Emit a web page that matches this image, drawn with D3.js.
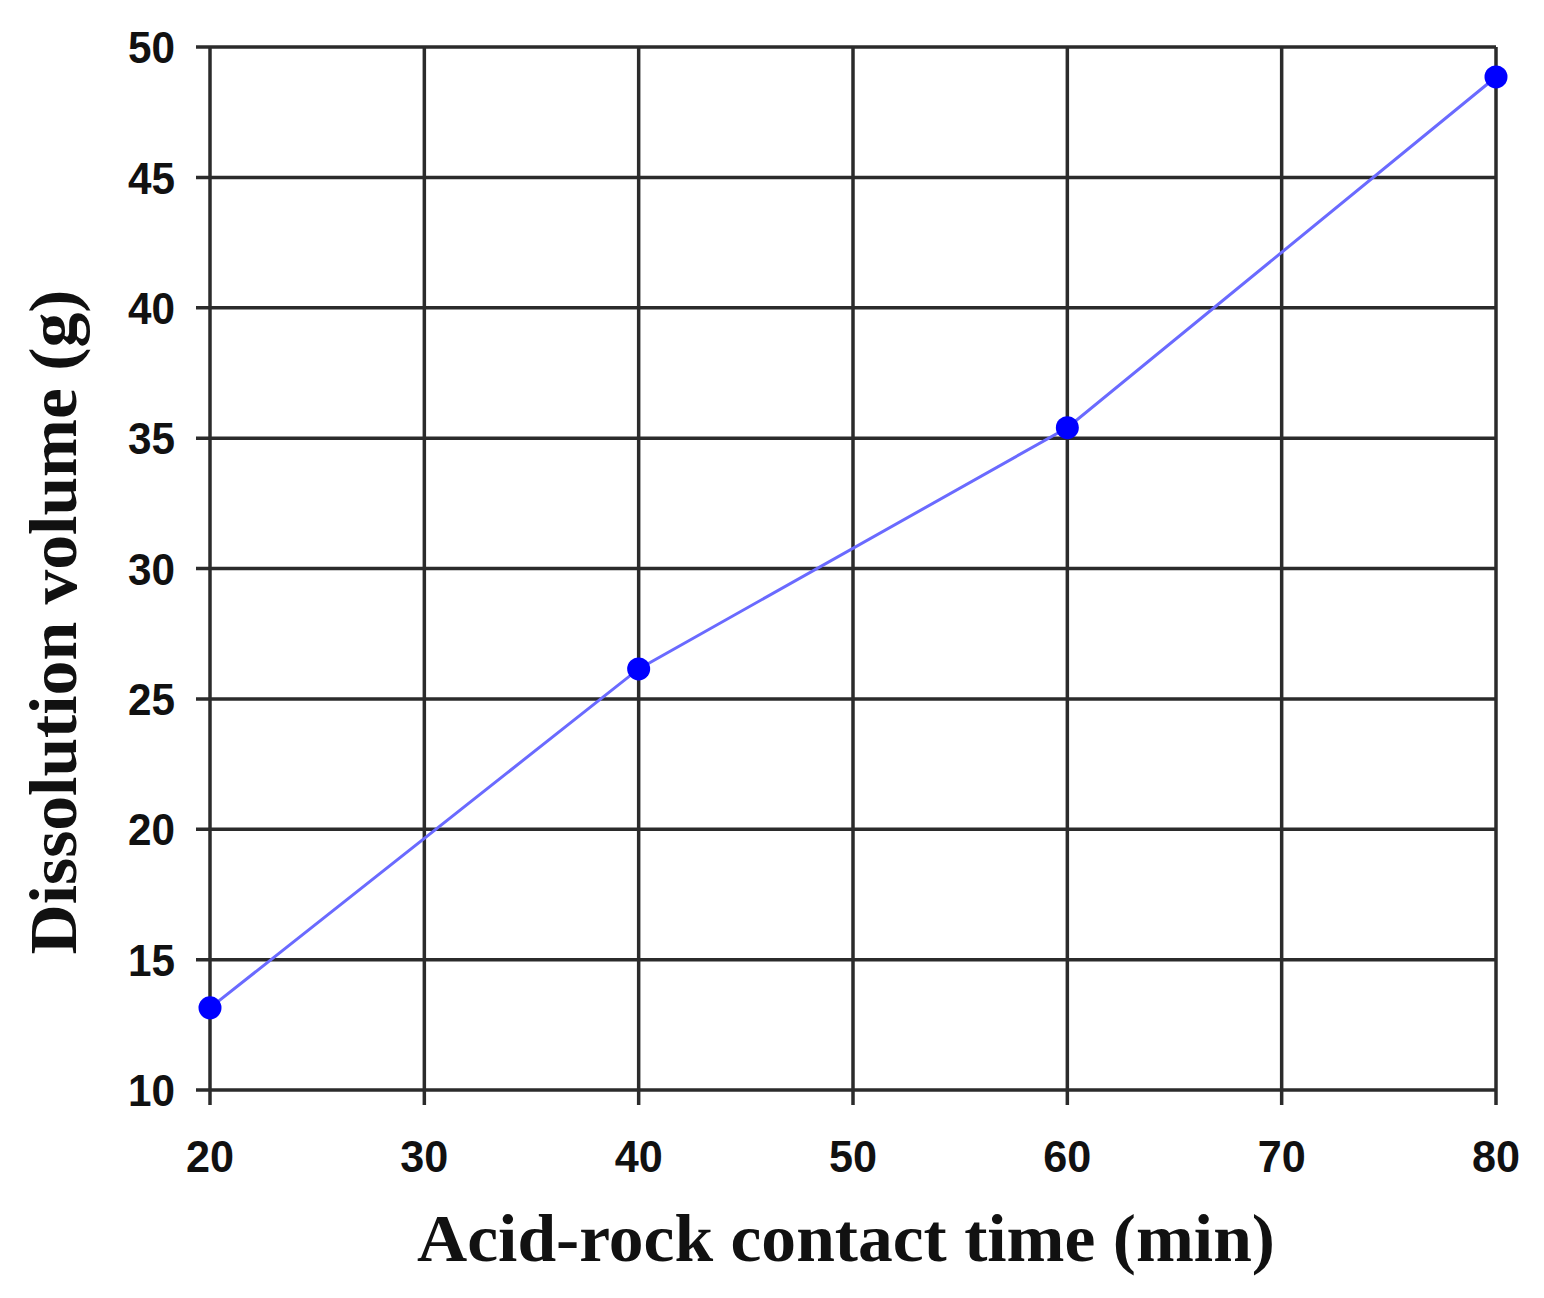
<!DOCTYPE html>
<html><head><meta charset="utf-8">
<script src="https://cdn.jsdelivr.net/npm/d3@7"></script>
<style>body{margin:0;background:#fff}svg{display:block}</style>
</head><body>
<script>
const times = [20, 40, 60, 80];
const volumes = [13.15, 26.15, 35.4, 48.85];
const xTicks = [20, 30, 40, 50, 60, 70, 80];
const yTicks = [10, 15, 20, 25, 30, 35, 40, 45, 50];
const xTitle = "Acid-rock contact time (min)";
const yTitle = "Dissolution volume (g)";

const W = 1544, H = 1298;
const L = 210, R = 1496, T = 47, B = 1090;
const svg = d3.select("body").append("svg").attr("width", W).attr("height", H);
const x = d3.scaleLinear().domain([20, 80]).range([L, R]);
const y = d3.scaleLinear().domain([10, 50]).range([B, T]);
const gridColor = "#2b2b2b";

svg.append("g").selectAll("line").data(yTicks).join("line")
  .attr("x1", L - 14).attr("x2", R).attr("y1", d => y(d)).attr("y2", d => y(d))
  .attr("stroke", gridColor).attr("stroke-width", 3.5);
svg.append("g").selectAll("line").data(xTicks).join("line")
  .attr("y1", T).attr("y2", B + 15).attr("x1", d => x(d)).attr("x2", d => x(d))
  .attr("stroke", gridColor).attr("stroke-width", 3.5);

svg.append("g").selectAll("text").data(yTicks).join("text")
  .attr("x", L - 35).attr("y", d => y(d)).attr("dy", "0.36em")
  .attr("text-anchor", "end")
  .attr("font-family", "Liberation Sans, Arial, sans-serif").attr("font-weight", "bold")
  .attr("font-size", 45).attr("textLength", 47).attr("lengthAdjust", "spacingAndGlyphs")
  .attr("fill", "#111").text(d => d);
svg.append("g").selectAll("text").data(xTicks).join("text")
  .attr("x", d => x(d)).attr("y", 1172)
  .attr("text-anchor", "middle")
  .attr("font-family", "Liberation Sans, Arial, sans-serif").attr("font-weight", "bold")
  .attr("font-size", 45).attr("textLength", 48).attr("lengthAdjust", "spacingAndGlyphs")
  .attr("fill", "#111").text(d => d);

const data = times.map((t, i) => [t, volumes[i]]);
svg.append("path").datum(data)
  .attr("d", d3.line().x(d => x(d[0])).y(d => y(d[1])))
  .attr("fill", "none").attr("stroke", "#6a6aff").attr("stroke-width", 3);
svg.append("g").selectAll("circle").data(data).join("circle")
  .attr("cx", d => x(d[0])).attr("cy", d => y(d[1])).attr("r", 11.5)
  .attr("fill", "#0000ff");

svg.append("text").attr("x", 846).attr("y", 1261).attr("text-anchor", "middle")
  .attr("font-family", "Liberation Serif, Times New Roman, serif").attr("font-weight", "bold")
  .attr("font-size", 68).attr("textLength", 858).attr("lengthAdjust", "spacingAndGlyphs")
  .attr("fill", "#111").text(xTitle);
svg.append("text").attr("transform", "translate(76,622) rotate(-90)").attr("text-anchor", "middle")
  .attr("font-family", "Liberation Serif, Times New Roman, serif").attr("font-weight", "bold")
  .attr("font-size", 68).attr("textLength", 665).attr("lengthAdjust", "spacingAndGlyphs")
  .attr("fill", "#111").text(yTitle);
</script>
</body></html>
